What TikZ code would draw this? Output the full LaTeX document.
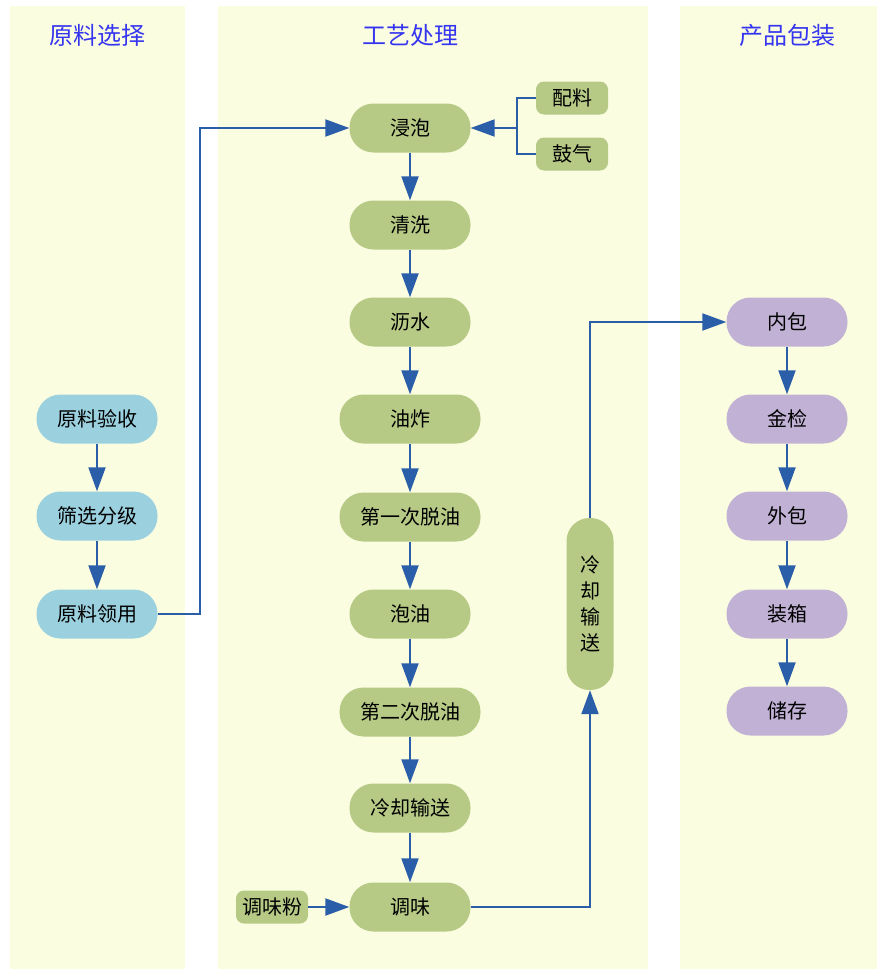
\documentclass[tikz,border=0pt]{standalone}
\usepackage{fontspec}
\setmainfont{Noto Sans CJK SC}
\usetikzlibrary{arrows.meta}
\definecolor{lanebg}{HTML}{FBFDE0}
\definecolor{stepblue}{HTML}{9BD0DF}
\definecolor{stepgreen}{HTML}{B6CA86}
\definecolor{steppurple}{HTML}{C1B2D5}
\definecolor{flowline}{HTML}{2A5EA8}
\definecolor{lanetitle}{HTML}{3535F0}

\begin{document}
\begin{tikzpicture}[x=1pt,y=-1pt,
  lane/.style={fill=lanebg,draw=none},
  lanehead/.style={text=lanetitle,font=\fontsize{24}{24}\selectfont},
  pill/.style={minimum height=49pt,minimum width=121pt,rounded corners=24pt,
    inner sep=0pt,font=\fontsize{20}{20}\selectfont},
  wide/.style={minimum width=141pt},
  tag/.style={minimum height=33pt,minimum width=72pt,rounded corners=8pt,
    inner sep=0pt,fill=stepgreen,font=\fontsize{20}{20}\selectfont},
  flow/.style={draw=flowline,line width=2pt,-{Triangle[length=24pt,width=17pt]}},
  link/.style={draw=flowline,line width=2pt}]
\useasboundingbox (0,0) rectangle (877,969);
\fill[white] (0,0) rectangle (877,969);
% lanes
\fill[lane] (10,6) rectangle (185,969);
\fill[lane] (218,6) rectangle (648,969);
\fill[lane] (680,6) rectangle (877,969);
\node[lanehead] (titleraw) at (97,35) {原料选择};
\node[lanehead] (titleproc) at (410,35) {工艺处理};
\node[lanehead] (titlepack) at (787,35) {产品包装};
% raw material
\node[pill,fill=stepblue] (check) at (97,419) {原料验收};
\node[pill,fill=stepblue] (sort) at (97,516) {筛选分级};
\node[pill,fill=stepblue] (take) at (97,614) {原料领用};
% processing
\node[pill,fill=stepgreen] (soak) at (410,128) {浸泡};
\node[pill,fill=stepgreen] (wash) at (410,225) {清洗};
\node[pill,fill=stepgreen] (drain) at (410,322) {沥水};
\node[pill,wide,fill=stepgreen] (fry) at (410,419) {油炸};
\node[pill,wide,fill=stepgreen] (deoil1) at (410,517) {第一次脱油};
\node[pill,fill=stepgreen] (bubble) at (410,614) {泡油};
\node[pill,wide,fill=stepgreen] (deoil2) at (410,712) {第二次脱油};
\node[pill,fill=stepgreen] (cool) at (410,808) {冷却输送};
\node[pill,fill=stepgreen] (season) at (410,907) {调味};
\node[tag] (mix) at (572,98) {配料};
\node[tag] (air) at (572,154) {鼓气};
\node[tag] (powder) at (272,907) {调味粉};
\node[pill,minimum width=47pt,minimum height=172pt,rounded corners=23pt,
  align=center,fill=stepgreen] (convey) at (590,604) {冷\\[6pt]却\\[6pt]输\\[6pt]送};
% packing
\node[pill,fill=steppurple] (inner) at (787,322) {内包};
\node[pill,fill=steppurple] (metal) at (787,419) {金检};
\node[pill,fill=steppurple] (outer) at (787,516) {外包};
\node[pill,fill=steppurple] (box) at (787,614) {装箱};
\node[pill,fill=steppurple] (store) at (787,711) {储存};
\coordinate (join) at (517,128);
% connectors
\draw[flow] (check) -- (sort);
\draw[flow] (sort) -- (take);
\draw[flow] (take.east) -- (200,614) -- (200,128) -- (soak.west);
\draw[link] (mix.west) -| (join) |- (air.west);
\draw[flow] (join) -- (soak.east);
\draw[flow] (soak) -- (wash);
\draw[flow] (wash) -- (drain);
\draw[flow] (drain) -- (fry);
\draw[flow] (fry) -- (deoil1);
\draw[flow] (deoil1) -- (bubble);
\draw[flow] (bubble) -- (deoil2);
\draw[flow] (deoil2) -- (cool);
\draw[flow] (cool) -- (season);
\draw[flow] (powder) -- (season);
\draw[flow] (season.east) -| (convey.south);
\draw[flow] (convey.north) |- (inner.west);
\draw[flow] (inner) -- (metal);
\draw[flow] (metal) -- (outer);
\draw[flow] (outer) -- (box);
\draw[flow] (box) -- (store);
\end{tikzpicture}
\end{document}
